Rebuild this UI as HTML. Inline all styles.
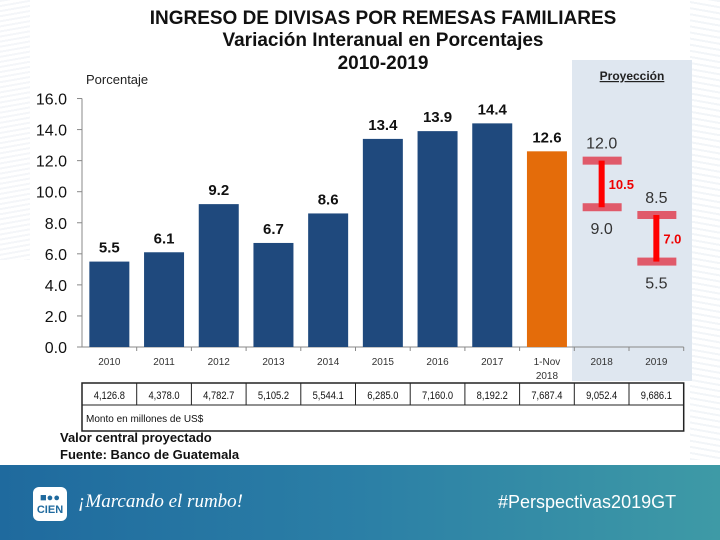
<!DOCTYPE html>
<html><head><meta charset="utf-8"><style>
body{margin:0;width:720px;height:540px;overflow:hidden;background:#fff;font-family:"Liberation Sans",sans-serif}
#root{position:relative;width:720px;height:540px}
.t{position:absolute;left:0;width:766px;text-align:center;font-weight:bold;color:#111}
</style></head><body><div id="root">
<div style="position:absolute;left:0;top:0;width:30px;height:260px;background:repeating-linear-gradient(170deg,#f4f6f9 0 2px,#fff 2px 5px)"></div>
<div style="position:absolute;right:0;top:0;width:30px;height:460px;background:repeating-linear-gradient(10deg,#f2f5f8 0 2px,#fff 2px 6px)"></div>
<div class="t" style="top:8px;font-size:19px">INGRESO DE DIVISAS POR REMESAS FAMILIARES</div>
<div class="t" style="top:30px;font-size:19px">Variación Interanual en Porcentajes</div>
<div class="t" style="top:53px;font-size:19px">2010-2019</div>
<svg id="chart" width="720" height="540" style="position:absolute;left:0;top:0"></svg>
<div style="position:absolute;left:0;top:465px;width:720px;height:75px;background:linear-gradient(90deg,#1f6a9e,#2b7fa6 50%,#3e9aa6)">
 <div style="position:absolute;left:33px;top:22px;width:34px;height:34px;background:#fff;border-radius:6px;color:#1f6a9e;font-weight:bold;font-size:11px;text-align:center;line-height:12px;padding-top:5px;box-sizing:border-box">■●●<br>CIEN</div>
 <div style="position:absolute;left:78px;top:26px;color:#fff;font-style:italic;font-size:19px;font-family:'Liberation Serif',serif">¡Marcando el rumbo!</div>
 <div style="position:absolute;left:498px;top:27px;color:#fff;font-size:18px">#Perspectivas2019GT</div>
</div>
</div>
<script>
const categories=["2010","2011","2012","2013","2014","2015","2016","2017","1-Nov|2018","2018","2019"];
const barValues=[5.5,6.1,9.2,6.7,8.6,13.4,13.9,14.4,12.6];
const rangeHigh=[12.0,8.5];
const rangeLow=[9.0,5.5];
const rangeMid=[10.5,7.0];
const amounts=["4,126.8","4,378.0","4,782.7","5,105.2","5,544.1","6,285.0","7,160.0","8,192.2","7,687.4","9,052.4","9,686.1"];
const yTicks=[0,2,4,6,8,10,12,14,16];
const svg=document.getElementById('chart');
const NS="http://www.w3.org/2000/svg";
const x0=82,step=54.7,y0=347,yk=15.53;
const xc=i=>x0+step*(i+0.5), ys=v=>y0-v*yk;
function mk(t,a,txt){const e=document.createElementNS(NS,t);for(const k in a)e.setAttribute(k,a[k]);if(txt!==undefined)e.textContent=txt;svg.appendChild(e);return e;}
let e=mk('rect',{x:572,y:60,width:120,height:321,fill:'#dfe7f0'});

e=mk('text',{x:632,y:80,'font-size':12,'font-weight':'bold','text-anchor':'middle',fill:'#222','text-decoration':'underline'},'Proyección');

e=mk('text',{x:86,y:84,'font-size':13,fill:'#222'},'Porcentaje');

e=mk('line',{x1:x0,y1:ys(16),x2:x0,y2:y0,stroke:'#888'});

e=mk('line',{x1:x0,y1:y0,x2:x0+step*11,y2:y0,stroke:'#888'});

yTicks.forEach(v=>{
 e=mk('line',{x1:x0-5,y1:ys(v),x2:x0,y2:ys(v),stroke:'#888'});
 
 e=mk('text',{x:67,y:ys(v)+6,'font-size':16,'text-anchor':'end',fill:'#111'},v.toFixed(1));
 
});
categories.forEach((c,i)=>{
 e=mk('line',{x1:x0+step*(i+1),y1:y0,x2:x0+step*(i+1),y2:y0+4,stroke:'#888'});
 
 c.split('|').forEach((p,j)=>{
  e=mk('text',{x:xc(i),y:365+j*14,'font-size':10,'text-anchor':'middle',fill:'#333'},p);
  
 });
});
barValues.forEach((v,i)=>{
 e=mk('rect',{x:xc(i)-20,y:ys(v),width:40,height:v*yk,fill:i==8?'#e46c0a':'#1f497d'});
 
 e=mk('text',{x:xc(i),y:ys(v)-9,'font-size':15,'font-weight':'bold','text-anchor':'middle',fill:'#111'},v.toFixed(1));
 
});
rangeHigh.forEach((h,k)=>{
 const i=9+k,cx=xc(i),l=rangeLow[k];
 e=mk('rect',{x:cx-19,y:ys(h)-4,width:39,height:8,fill:'#e05a6a'});
 
 e=mk('rect',{x:cx-19,y:ys(l)-4,width:39,height:8,fill:'#e05a6a'});
 
 e=mk('rect',{x:cx-3,y:ys(h),width:6,height:(h-l)*yk,fill:'#ff0000'});
 
 e=mk('text',{x:cx,y:ys(h)-12,'font-size':16,'text-anchor':'middle',fill:'#333'},h.toFixed(1));
 
 e=mk('text',{x:cx,y:ys(l)+27,'font-size':16,'text-anchor':'middle',fill:'#333'},l.toFixed(1));
 
 e=mk('text',{x:cx+7,y:ys(rangeMid[k])+5,'font-size':13,'font-weight':'bold',fill:'#e00'},rangeMid[k].toFixed(1));
 
});
e=mk('rect',{x:x0,y:383,width:step*11,height:48,fill:'#fff',stroke:'#222','stroke-width':1.5});

mk('line',{x1:x0,y1:405,x2:x0+step*11,y2:405,stroke:'#222'});
amounts.forEach((a,i)=>{
 if(i>0)mk('line',{x1:x0+step*i,y1:383,x2:x0+step*i,y2:405,stroke:'#222'});
 e=mk('text',{x:xc(i),y:399,'font-size':11,'text-anchor':'middle',fill:'#111',transform:`translate(${xc(i)*0.15},0) scale(0.85,1)`},a);
 
});
e=mk('text',{x:86,y:422,'font-size':10,fill:'#111'},'Monto en millones de US$');

e=mk('text',{x:60,y:442,'font-size':13,'font-weight':'bold',fill:'#111'},'Valor central proyectado');

e=mk('text',{x:60,y:459,'font-size':13,'font-weight':'bold',fill:'#111'},'Fuente: Banco de Guatemala');

</script></body></html>
